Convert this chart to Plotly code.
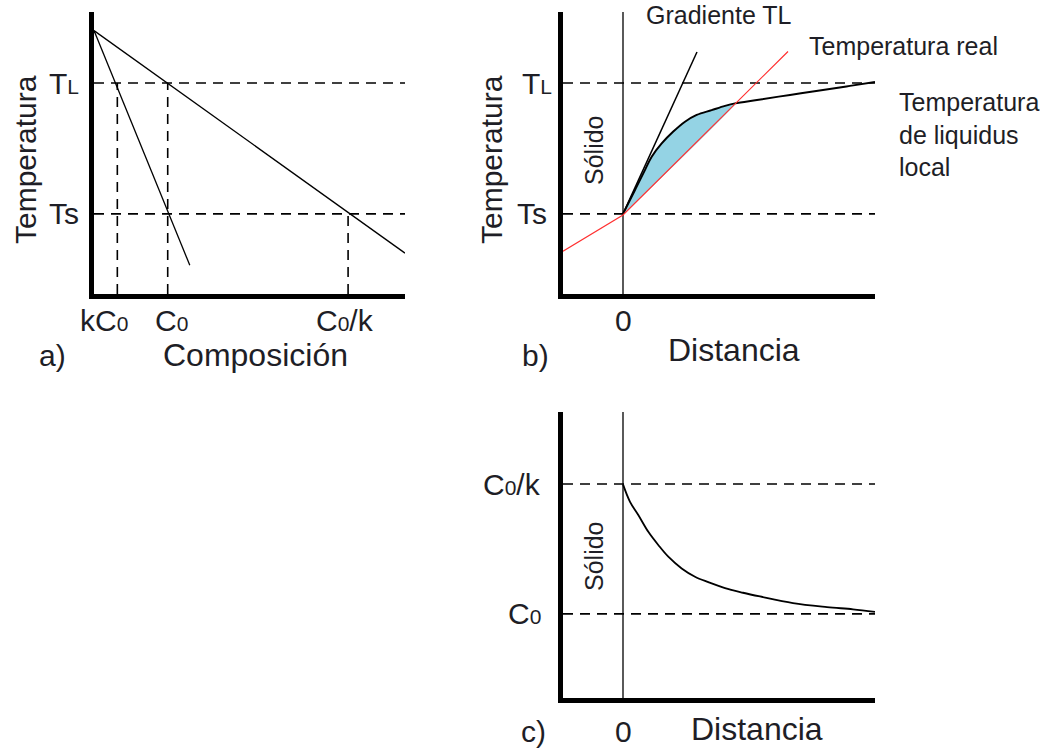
import numpy as np
import plotly.graph_objects as go

W, H = 1045, 750
FONT = "Liberation Sans, Arial, sans-serif"
INK = "#1e1e26"
BIG, SUB, MID, TITLE = 30, 21, 25, 32

# ---- a) phase diagram: composition vs temperature ----
k_c0, c0, c0_k = 7.5, 23.7, 81.7
t_liq, t_sol = 74.8, 28.4
liquidus_comp = [0, 100]
liquidus_temp = [93.4, 14.5]
solidus_comp = [0, 30.8]
solidus_temp = [93.4, 10.2]

# ---- b) temperature ahead of the interface ----
real_dist = [-1.0, 0.0, 2.75]
real_temp = [15.2, 28.0, 86.0]
grad_dist = [0.0, 1.233]
grad_temp = [28.4, 85.8]
liq_dist = [0.0, 0.2, 0.367, 0.478, 0.645, 0.838, 1.033, 1.228, 1.478, 1.7, 1.867,
            2.233, 2.783, 3.333, 3.783, 4.2]
liq_temp = [28.4, 36.9, 44.0, 48.7, 53.4, 57.6, 61.1, 63.5, 65.2, 66.7, 67.6,
            68.8, 70.6, 72.3, 73.8, 75.2]

# ---- c) solute profile in the liquid ----
conc_c0, conc_c0_k = 29.4, 74.8
prof_dist = [0.0, 0.117, 0.255, 0.422, 0.588, 0.755, 0.978, 1.2, 1.422, 1.7, 2.0,
             2.283, 2.833, 3.4, 3.833, 4.2]
prof_conc = [74.7, 68.6, 64.0, 58.1, 53.5, 49.4, 45.3, 42.4, 40.5, 38.4, 36.8,
             35.5, 33.2, 31.8, 31.0, 30.1]

DASH = "10px,7px"


def sub(main, small):
    return f"{main}<span style='font-size:{SUB}px'>{small}</span>"


def px_x(p):
    return p / W


def px_y(p):
    return 1 - p / H


fig = go.Figure()


def line(x, y, ax, color="black", width=1.3, dash=None, shape="linear"):
    fig.add_trace(go.Scatter(
        x=x, y=y, mode="lines", xaxis="x" + ax, yaxis="y" + ax,
        line=dict(color=color, width=width, dash=dash, shape=shape),
        hoverinfo="skip"))


# panel a
line([0, 100], [t_liq, t_liq], "", width=1.6, dash=DASH)
line([0, 100], [t_sol, t_sol], "", width=1.6, dash=DASH)
line([k_c0, k_c0], [0, t_liq], "", width=1.6, dash=DASH)
line([c0, c0], [0, t_liq], "", width=1.6, dash=DASH)
line([c0_k, c0_k], [0, t_sol], "", width=1.6, dash=DASH)
line(liquidus_comp, liquidus_temp, "", width=1.3)
line(solidus_comp, solidus_temp, "", width=1.3)

# panel b: shaded constitutionally undercooled zone
red_interp = lambda d: np.interp(d, real_dist, real_temp)
fine = np.linspace(0, liq_dist[-1], 2000)
diff = np.interp(fine, liq_dist, liq_temp) - red_interp(fine)
cross = fine[1:][(diff[1:] < 0) & (diff[:-1] >= 0)][0]
upper_x = [d for d in liq_dist if d < cross] + [cross]
upper_y = [t for d, t in zip(liq_dist, liq_temp) if d < cross] + [float(red_interp(cross))]
poly_x = upper_x + [0.0]
poly_y = upper_y + [float(red_interp(0.0))]
fig.add_trace(go.Scatter(
    x=poly_x, y=poly_y, mode="lines", xaxis="x2", yaxis="y2",
    fill="toself", fillcolor="#94d3e4", line=dict(width=0, shape="spline"),
    hoverinfo="skip"))

line([-1, 4.2], [t_liq, t_liq], "2", width=1.6, dash=DASH)
line([-1, 4.2], [t_sol, t_sol], "2", width=1.6, dash=DASH)
line([0, 0], [0, 100], "2", width=1.3)
line(grad_dist, grad_temp, "2", width=1.5)
line(liq_dist, liq_temp, "2", width=2.0, shape="spline")
line(real_dist, real_temp, "2", color="#ff3030", width=1.2)

# panel c
line([-1, 4.2], [conc_c0_k, conc_c0_k], "3", width=1.6, dash=DASH)
line([-1, 4.2], [conc_c0, conc_c0], "3", width=1.6, dash=DASH)
line([0, 0], [0, 100], "3", width=1.3)
line(prof_dist, prof_conc, "3", width=1.8, shape="spline")

axis_common = dict(showline=True, linewidth=5, linecolor="black", showgrid=False,
                   zeroline=False, showticklabels=False, ticks="", fixedrange=True)

fig.update_layout(
    width=W, height=H, margin=dict(l=0, r=0, t=0, b=0),
    paper_bgcolor="white", plot_bgcolor="white", showlegend=False,
    font=dict(family=FONT, color=INK),
    xaxis=dict(domain=[px_x(94), px_x(405)], range=[0, 100], anchor="y", **axis_common),
    yaxis=dict(domain=[px_y(294), px_y(12)], range=[0, 100], anchor="x", **axis_common),
    xaxis2=dict(domain=[px_x(563), px_x(875)], range=[-1, 4.2], anchor="y2", **axis_common),
    yaxis2=dict(domain=[px_y(294), px_y(12)], range=[0, 100], anchor="x2", **axis_common),
    xaxis3=dict(domain=[px_x(563), px_x(875)], range=[-1, 4.2], anchor="y3", **axis_common),
    yaxis3=dict(domain=[px_y(698), px_y(412)], range=[0, 100], anchor="x3", **axis_common),
)


def note(text, x, y, xref="paper", yref="paper", size=BIG, xanchor="center",
         yanchor="middle", angle=0, xshift=0, align="center"):
    fig.add_annotation(text=text, x=x, y=y, xref=xref, yref=yref, showarrow=False,
                       font=dict(size=size, family=FONT, color=INK), xanchor=xanchor,
                       yanchor=yanchor, textangle=angle, xshift=xshift, align=align)


# labels, panel a
note("Temperatura", px_x(25), px_y(160), angle=-90)
note(sub("T", "L"), px_x(81), t_liq, yref="y", xanchor="right")
note("Ts", px_x(81), t_sol, yref="y", xanchor="right")
note(sub("kC", "0"), k_c0, px_y(320), xref="x", xshift=-13)
note(sub("C", "0"), c0, px_y(320), xref="x", xshift=4)
note(sub("C", "0") + "/k", c0_k, px_y(320), xref="x", xshift=-3)
note("a)", px_x(52), px_y(355))
note("Composición", px_x(255), px_y(355), size=TITLE)

# labels, panel b
note("Temperatura", px_x(491), px_y(160), angle=-90)
note(sub("T", "L"), px_x(554), t_liq, yref="y2", xanchor="right")
note("Ts", px_x(549), t_sol, yref="y2", xanchor="right")
note("Sólido", px_x(594), px_y(150), size=MID, angle=-90)
note("Gradiente TL", px_x(644), px_y(15), size=MID, xanchor="left")
note("Temperatura real", px_x(807), px_y(46), size=MID, xanchor="left")
note("Temperatura<br>de liquidus<br>local", px_x(897), px_y(135), size=MID,
     xanchor="left", align="left")
note("0", 0, px_y(320), xref="x2")
note("b)", px_x(535), px_y(355))
note("Distancia", px_x(734), px_y(350), size=TITLE)

# labels, panel c
note(sub("C", "0") + "/k", px_x(543), conc_c0_k, yref="y3", xanchor="right")
note(sub("C", "0"), px_x(543), conc_c0, yref="y3", xanchor="right")
note("Sólido", px_x(594), px_y(556), size=MID, angle=-90)
note("c)", px_x(533), px_y(731))
note("0", 0, px_y(731), xref="x3")
note("Distancia", px_x(757), px_y(729), size=TITLE)

fig.write_html("out.html")
